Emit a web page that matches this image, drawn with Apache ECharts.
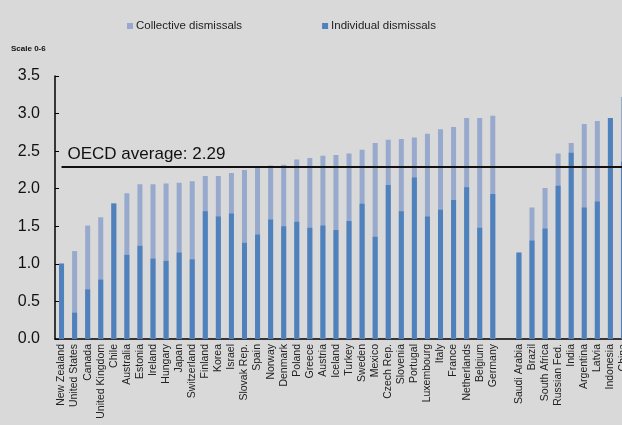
<!DOCTYPE html>
<html>
<head>
<meta charset="utf-8">
<script src="https://cdn.jsdelivr.net/npm/echarts@6/dist/echarts.min.js"></script>
<style>
html,body{margin:0;padding:0;background:#d9d9d9;overflow:hidden;width:622px;height:425px;}
#c{width:630px;height:425px;}
</style>
</head>
<body>
<div id="c"></div>
<script>
const categories = ["New Zealand","United States","Canada","United Kingdom","Chile","Australia","Estonia","Ireland","Hungary","Japan","Switzerland","Finland","Korea","Israel","Slovak Rep.","Spain","Norway","Denmark","Poland","Greece","Austria","Iceland","Turkey","Sweden","Mexico","Czech Rep.","Slovenia","Portugal","Luxembourg","Italy","France","Netherlands","Belgium","Germany","","Saudi Arabia","Brazil","South Africa","Russian Fed.","India","Argentina","Latvia","Indonesia","China"];
// height of the light bar (collective dismissals, overall index)
const collective = [1.01,1.17,1.51,1.62,1.81,1.94,2.06,2.06,2.07,2.08,2.10,2.17,2.17,2.21,2.25,2.29,2.31,2.32,2.39,2.41,2.44,2.45,2.47,2.52,2.61,2.65,2.66,2.68,2.73,2.79,2.82,2.94,2.94,2.97,null,1.15,1.75,2.01,2.47,2.61,2.86,2.90,2.94,3.22];
// height of the dark bar (individual dismissals)
const individual = [1.00,0.35,0.66,0.79,1.80,1.12,1.24,1.07,1.04,1.15,1.06,1.70,1.63,1.67,1.28,1.39,1.59,1.50,1.56,1.48,1.51,1.45,1.57,1.80,1.36,2.05,1.70,2.15,1.63,1.72,1.85,2.02,1.48,1.93,null,1.15,1.31,1.47,2.04,2.48,1.75,1.83,2.94,2.36];
const yTicks = [0,0.5,1,1.5,2,2.5,3,3.5];
const oecdAverage = 2.29;
const oecdLabel = "OECD average: 2.29";

const chart = echarts.init(document.getElementById('c'), null, {renderer:'canvas'});
chart.setOption({
  animation:false,
  backgroundColor:'#d9d9d9',
  textStyle:{fontFamily:'Liberation Sans, Arial, sans-serif'},
  graphic:[{type:'text',left:11,top:45,style:{text:'Scale 0-6',font:'bold 8px Liberation Sans, Arial, sans-serif',fill:'#111'}}],
  legend:{
    left:122, top:15, itemWidth:6, itemHeight:6, itemGap:80,
    icon:'rect',
    textStyle:{fontSize:11.5,color:'#222',padding:[0,0,0,-2]},
    data:['Collective dismissals','Individual dismissals']
  },
  grid:{left:55,top:76,right:0,height:263},
  xAxis:{
    type:'category', data:categories,
    axisLine:{lineStyle:{color:'#000',width:1.5}},
    axisTick:{show:false},
    axisLabel:{rotate:90,interval:0,fontSize:10.5,color:'#222',margin:5}
  },
  yAxis:{
    type:'value', min:yTicks[0], max:yTicks[yTicks.length-1], interval:0.5,
    splitLine:{show:false},
    axisLine:{show:true,lineStyle:{color:'#000',width:1.5}},
    axisTick:{show:true,inside:true,length:4,lineStyle:{color:'#000'}},
    axisLabel:{fontSize:16,color:'#111',margin:15,formatter:v=>v.toFixed(1)}
  },
  series:[
    {name:'Collective dismissals',type:'bar',data:collective,barWidth:5,barGap:'-100%',
     itemStyle:{color:'#97a9cc'},
     markLine:{symbol:'none',silent:true,
       lineStyle:{color:'#111',width:2,type:'solid'},
       label:{show:true,position:'insideStartTop',formatter:oecdLabel,fontSize:17,color:'#111',distance:[6,4]},
       data:[[{coord:[categories[0],oecdAverage]},{coord:[categories[categories.length-1],oecdAverage]}]]}
    },
    {name:'Individual dismissals',type:'bar',data:individual,barWidth:5,barGap:'-100%',
     itemStyle:{color:'#4f81bd'}}
  ]
});
</script>
</body>
</html>
